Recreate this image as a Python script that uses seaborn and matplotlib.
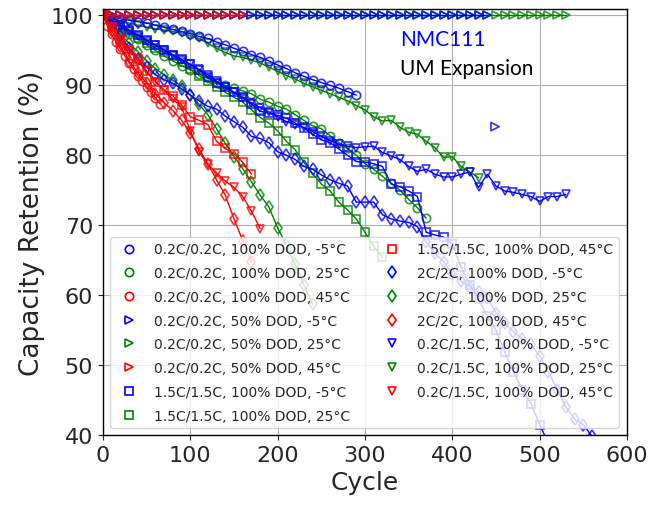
import numpy as np
import pandas as pd
import matplotlib
matplotlib.use("Agg")
import matplotlib.pyplot as plt
from matplotlib.lines import Line2D
import seaborn as sns

# data (cycle, capacity retention %)
cyc_b_o = [0, 10, 20, 30, 40, 50, 60, 70, 80, 90, 100, 110, 120, 130, 140, 150, 160, 170, 180, 190,
           200, 210, 220, 230, 240, 250, 260, 270, 280, 290]
ret_b_o = [100, 99.7, 99.5, 99.3, 99.1, 98.9, 98.6, 98.3, 98.0, 97.7, 97.4, 97.0, 96.7, 96.2, 95.8,
           95.3, 94.9, 94.4, 94.0, 93.5, 92.9, 92.4, 91.8, 91.3, 90.8, 90.4, 90.0, 89.6, 89.1, 88.6]

cyc_g_o = [0, 10, 20, 30, 40, 50, 60, 70, 80, 90, 100, 110, 120, 130, 140, 150, 160, 170, 180, 190,
           200, 210, 220, 230, 240, 250, 260, 270, 280, 290, 300, 310, 320, 330, 340, 350, 360, 370]
ret_g_o = [100, 99.1, 98.2, 97.4, 96.6, 95.8, 95.0, 94.2, 93.5, 92.8, 92.2, 91.6, 91.0, 90.4, 90.0,
           89.6, 89.2, 88.8, 88.0, 87.6, 87.0, 86.6, 85.8, 85.0, 84.2, 83.8, 82.8, 81.8, 81.0, 80.0,
           78.8, 78.0, 77.0, 76.0, 75.0, 73.7, 72.5, 71.0]

cyc_r_o = [0, 5, 10, 15, 20, 25, 30, 35, 40, 45, 50, 55, 60, 65]
ret_r_o = [100, 98.5, 97.3, 96.2, 95.2, 94.2, 93.2, 92.3, 91.4, 90.6, 89.8, 89.0, 88.2, 87.4]

cyc_b_t = [0, 10, 20, 30, 40, 50, 60, 70, 80, 90, 100, 110, 120, 130, 140, 150, 160, 170, 180, 190,
           200, 210, 220, 230, 240, 250, 260, 270, 280, 290, 300, 310, 320, 330, 340, 350, 360, 370,
           380, 390, 400, 410, 420, 430, 440]
ret_b_t = [100] * len(cyc_b_t)
cyc_b_t_extra = [449]
ret_b_t_extra = [84.1]

cyc_g_t = [0, 10, 20, 30, 40, 50, 60, 70, 80, 90, 100, 110, 120, 130, 140, 150, 160, 170, 180, 190,
           200, 210, 220, 230, 240, 250, 260, 270, 280, 290, 300, 310, 320, 330, 340, 350, 360, 370,
           380, 390, 400, 410, 420, 430, 440, 450, 460, 470, 480, 490, 500, 510, 520, 530]
ret_g_t = [100] * len(cyc_g_t)

cyc_r_t = [0, 10, 20, 30, 40, 50, 60, 70, 80, 90, 100, 110, 120, 130, 140, 150, 160]
ret_r_t = [100] * len(cyc_r_t)

cyc_b_s = [0, 10, 20, 30, 40, 50, 60, 70, 80, 90, 100, 110, 120, 130, 140, 150, 160, 170, 180, 190,
           200, 210, 220, 230, 240, 250, 260, 270, 280, 290, 300, 310, 320, 330, 340, 350, 360, 370,
           380, 390, 400, 410, 420, 430, 440, 450, 460, 470, 480, 490, 500, 510]
ret_b_s = [100, 99.3, 98.6, 97.9, 97.2, 96.5, 95.8, 95.1, 94.4, 93.7, 93.0, 92.2, 91.2, 90.4, 89.7,
           89.0, 88.3, 87.3, 86.3, 86.0, 85.7, 85.3, 84.6, 83.9, 83.0, 82.2, 81.8, 80.9, 80.0, 79.1,
           79.0, 78.8, 78.4, 75.9, 75.5, 74.9, 74.1, 69.0, 68.6, 68.3, 67.3, 64.0, 61.5, 59.4, 57.0,
           55.0, 51.9, 49.0, 46.5, 44.5, 41.5, 38.8]

cyc_g_s = [0, 10, 20, 30, 40, 50, 60, 70, 80, 90, 100, 110, 120, 130, 140, 150, 160, 170, 180, 190,
           200, 210, 220, 230, 240, 250, 260, 270, 280, 290, 300, 310, 320]
ret_g_s = [100, 99.2, 98.4, 97.6, 96.8, 96.0, 95.3, 94.7, 94.2, 93.4, 92.4, 91.4, 90.6, 89.8, 89.0,
           88.3, 87.6, 86.5, 85.4, 84.6, 83.5, 82.0, 80.8, 79.0, 77.4, 75.9, 74.9, 73.3, 72.2, 70.9,
           69.0, 67.0, 65.4]

cyc_r_s = [0, 10, 20, 30, 40, 50, 60, 70, 80, 90, 100, 110, 120, 130, 140, 150, 160, 170]
ret_r_s = [100, 98.3, 96.5, 95.0, 93.8, 92.0, 90.5, 89.3, 88.5, 87.2, 85.5, 85.0, 84.4, 82.0, 81.0,
           80.2, 79.0, 77.3]

cyc_b_d = [0, 10, 20, 30, 40, 50, 60, 70, 80, 90, 100, 110, 120, 130, 140, 150, 160, 170, 180, 190,
           200, 210, 220, 230, 240, 250, 260, 270, 280, 290, 300, 310, 320, 330, 340, 350, 360, 370,
           380, 390, 400, 410, 420, 430, 440, 450, 460, 470, 480, 490, 500, 510, 520, 530, 540, 550, 560]
ret_b_d = [100, 98.5, 97.0, 95.3, 93.8, 92.6, 91.5, 90.8, 90.3, 89.5, 88.6, 87.8, 87.0, 86.6, 85.6,
           84.8, 84.0, 82.7, 82.4, 81.8, 80.5, 80.0, 79.4, 78.4, 78.0, 77.2, 76.5, 76.0, 75.6, 73.3,
           73.3, 73.3, 71.5, 70.9, 70.6, 70.4, 69.8, 67.6, 66.0, 64.8, 63.0, 62.0, 61.2, 60.4, 59.6,
           57.5, 56.0, 54.8, 53.7, 53.0, 51.3, 49.0, 46.5, 44.0, 42.3, 41.5, 39.8]

cyc_g_d = [0, 10, 20, 30, 40, 50, 60, 70, 80, 90, 100, 110, 120, 130, 140, 150, 160, 170, 180, 190,
           200, 210, 220, 230, 240]
ret_g_d = [100, 98.6, 97.3, 96.0, 94.8, 93.5, 92.4, 91.5, 90.7, 89.9, 88.6, 87.3, 85.8, 83.8, 81.7,
           79.8, 78.1, 76.2, 74.3, 72.6, 69.6, 67.2, 64.4, 61.5, 58.7]

cyc_r_d = [0, 10, 20, 30, 40, 50, 60, 70, 80, 90, 100, 110, 120, 130, 140, 150, 160, 170]
ret_r_d = [100, 97.8, 95.6, 93.5, 91.8, 90.3, 88.8, 87.5, 86.4, 85.0, 83.2, 80.9, 78.8, 76.5, 74.3,
           70.9, 67.8, 64.7]

cyc_b_v = [0, 10, 20, 30, 40, 50, 60, 70, 80, 90, 100, 110, 120, 130, 140, 150, 160, 170, 180, 190,
           200, 210, 220, 230, 240, 250, 260, 270, 280, 290, 300, 310, 320, 330, 340, 350, 360, 370,
           380, 390, 400, 410, 420, 430, 440, 450, 460, 470, 480, 490, 500, 510, 520, 530]
ret_b_v = [100, 99.3, 98.5, 97.8, 97.1, 96.4, 95.7, 95.0, 94.3, 93.6, 93.0, 92.3, 91.5, 90.6, 89.8,
           89.0, 88.2, 87.5, 86.8, 86.2, 85.5, 84.8, 84.4, 84.0, 83.4, 82.7, 82.1, 81.6, 81.3, 81.1,
           81.2, 81.3, 80.4, 79.9, 79.4, 78.4, 77.7, 78.0, 77.3, 76.9, 76.9, 77.3, 77.6, 75.4, 77.3,
           75.6, 74.9, 74.7, 74.4, 74.1, 73.4, 74.1, 74.1, 74.4]

cyc_g_v = [0, 10, 20, 30, 40, 50, 60, 70, 80, 90, 100, 110, 120, 130, 140, 150, 160, 170, 180, 190,
           200, 210, 220, 230, 240, 250, 260, 270, 280, 290, 300, 310, 320, 330, 340, 350, 360, 370,
           380, 390, 400, 410, 420, 430]
ret_g_v = [100, 99.6, 99.2, 98.9, 98.6, 98.3, 98.1, 97.9, 97.7, 97.5, 97.1, 96.7, 96.0, 95.3, 94.7,
           94.2, 94.0, 93.6, 93.2, 92.6, 92.0, 91.4, 90.9, 90.3, 89.8, 89.3, 88.8, 88.3, 87.8, 87.1,
           86.5, 85.5, 84.9, 85.0, 84.0, 83.3, 83.0, 82.0, 81.1, 79.7, 79.8, 78.4, 77.6, 76.8]

cyc_r_v = [0, 10, 20, 30, 40, 50, 60, 70, 80, 90, 100, 110, 120, 130, 140, 150, 160, 170, 180]
ret_r_v = [100, 98.3, 96.6, 95.0, 93.4, 92.0, 90.5, 89.3, 88.0, 86.9, 83.5, 80.5, 78.7, 77.5, 76.3,
           75.4, 74.1, 72.0, 69.5]

series = [
    ("0.2C/0.2C, 100% DOD, -5°C", "blue", "o", cyc_b_o, ret_b_o),
    ("0.2C/0.2C, 100% DOD, 25°C", "green", "o", cyc_g_o, ret_g_o),
    ("0.2C/0.2C, 100% DOD, 45°C", "red", "o", cyc_r_o, ret_r_o),
    ("0.2C/0.2C, 50% DOD, -5°C", "blue", ">", cyc_b_t, ret_b_t),
    ("0.2C/0.2C, 50% DOD, 25°C", "green", ">", cyc_g_t, ret_g_t),
    ("0.2C/0.2C, 50% DOD, 45°C", "red", ">", cyc_r_t, ret_r_t),
    ("1.5C/1.5C, 100% DOD, -5°C", "blue", "s", cyc_b_s, ret_b_s),
    ("1.5C/1.5C, 100% DOD, 25°C", "green", "s", cyc_g_s, ret_g_s),
    ("1.5C/1.5C, 100% DOD, 45°C", "red", "s", cyc_r_s, ret_r_s),
    ("2C/2C, 100% DOD, -5°C", "blue", "d", cyc_b_d, ret_b_d),
    ("2C/2C, 100% DOD, 25°C", "green", "d", cyc_g_d, ret_g_d),
    ("2C/2C, 100% DOD, 45°C", "red", "d", cyc_r_d, ret_r_d),
    ("0.2C/1.5C, 100% DOD, -5°C", "blue", "v", cyc_b_v, ret_b_v),
    ("0.2C/1.5C, 100% DOD, 25°C", "green", "v", cyc_g_v, ret_g_v),
    ("0.2C/1.5C, 100% DOD, 45°C", "red", "v", cyc_r_v, ret_r_v),
]
layer = {"green": 2.0, "blue": 2.1, "red": 2.2}

sns.set_style("ticks")
plt.rcParams["font.family"] = ["DejaVu Sans"]

fig = plt.figure(figsize=(6.54, 5.06), dpi=100)
ax = fig.add_axes([0.1575, 0.1383, 0.8012, 0.8417])

handles = []
for label, color, marker, cyc, ret in series:
    df = pd.DataFrame({"cycle": cyc, "retention": ret})
    rgba = matplotlib.colors.to_rgba(color, 0.8)
    sns.lineplot(data=df, x="cycle", y="retention", ax=ax, color=color, lw=1,
                 marker=marker, ms=6, mfc="none", mec=rgba, mew=1.2,
                 sort=False, estimator=None, legend=False, zorder=layer[color])
    handles.append(Line2D([], [], ls="none", marker=marker, ms=6, mfc="none",
                          mec=color, mew=1.2, label=label))

# isolated point of the 50% DOD, -5°C series
sns.scatterplot(x=cyc_b_t_extra, y=ret_b_t_extra, ax=ax, marker=">", s=36,
                facecolor="none", edgecolor=matplotlib.colors.to_rgba("blue", 0.8),
                linewidth=1.2, legend=False)

ax.set_xlim(0, 600)
ax.set_ylim(40, 100.9)
ax.set_xticks([0, 100, 200, 300, 400, 500, 600])
ax.set_yticks([40, 50, 60, 70, 80, 90, 100])
ax.grid(True, color="#b0b0b0", lw=0.8)
ax.tick_params(labelsize=16)
for s in ax.spines.values():
    s.set_color("black")
    s.set_linewidth(1)
ax.set_xlabel("Cycle", fontsize=18)
ax.set_ylabel("Capacity Retention (%)", fontsize=19)

ax.text(340, 95.7, "NMC111", color="blue", fontsize=15, family=["Lato", "DejaVu Sans"])
ax.text(340, 91.6, "UM Expansion", color="black", fontsize=15, family=["Lato", "DejaVu Sans"])

ax.legend(handles=handles, ncol=2, loc="lower left", fontsize=10, labelspacing=0.7)

fig.savefig("out.png", dpi=100)
